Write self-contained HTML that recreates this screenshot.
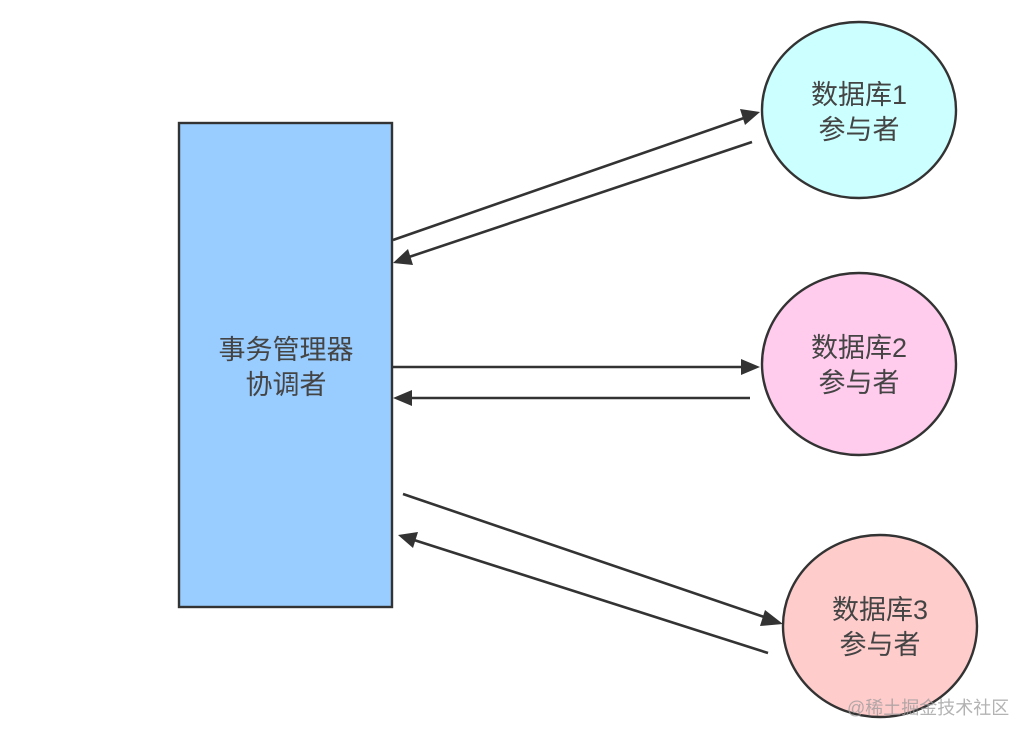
<!DOCTYPE html>
<html><head><meta charset="utf-8"><style>
html,body{margin:0;padding:0;background:#fff;}
body{width:1028px;height:738px;overflow:hidden;position:relative;}
svg{position:absolute;left:0;top:0;}
.t{font-family:"Liberation Sans","Noto Sans CJK SC",sans-serif;font-size:27px;fill:#444;text-anchor:middle;dominant-baseline:central;}
.w{font-family:"Liberation Sans","Noto Sans CJK SC",sans-serif;font-size:18px;fill:#999;fill-opacity:0.75;}
</style></head><body>
<svg width="1028" height="738" viewBox="0 0 1028 738" xmlns="http://www.w3.org/2000/svg">
<rect x="179" y="123" width="213" height="484" fill="#99ccff" stroke="#333" stroke-width="2.4"/>
<text class="t" x="286" y="350">事务管理器</text>
<text class="t" x="286" y="385">协调者</text>

<ellipse cx="859" cy="110" rx="97" ry="88" fill="#ccffff" stroke="#333" stroke-width="2.4"/>
<text class="t" x="859" y="95">数据库1</text>
<text class="t" x="859" y="130">参与者</text>

<ellipse cx="859" cy="364" rx="97" ry="91" fill="#ffccee" stroke="#333" stroke-width="2.4"/>
<text class="t" x="859" y="348">数据库2</text>
<text class="t" x="859" y="383">参与者</text>

<ellipse cx="880" cy="626" rx="97" ry="91" fill="#ffcccc" stroke="#333" stroke-width="2.4"/>
<text class="t" x="880" y="610">数据库3</text>
<text class="t" x="880" y="645">参与者</text>

<g stroke="#333" stroke-width="2.6" fill="none">
<line x1="393" y1="240" x2="744" y2="118"/>
<line x1="752" y1="142" x2="409" y2="257"/>
<line x1="393" y1="367" x2="743" y2="367"/>
<line x1="750" y1="398" x2="410" y2="398"/>
<line x1="403" y1="494" x2="767" y2="618"/>
<line x1="768" y1="653" x2="414" y2="540"/>
</g>
<g fill="#333">
<polygon points="760,112 740,109 745,125"/>
<polygon points="393,263 413,265 408,249"/>
<polygon points="760,367 741,359 741,375"/>
<polygon points="393,398 412,390 412,406"/>
<polygon points="783,624 765,610 760,626"/>
<polygon points="398,535 418,532 413,548"/>
</g>
<text class="w" x="847" y="714">@稀土掘金技术社区</text>
</svg>
</body></html>
